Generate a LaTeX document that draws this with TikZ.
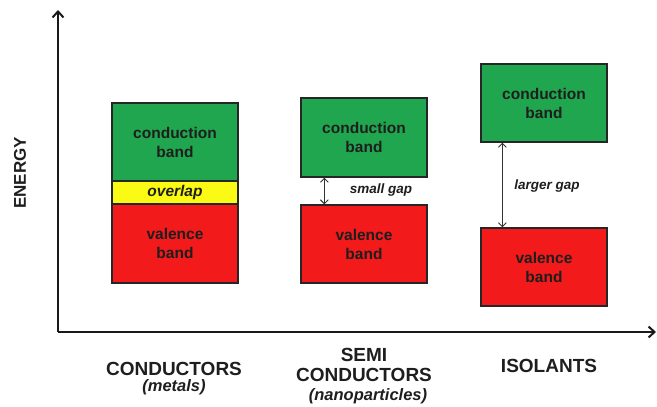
\documentclass[tikz,border=0pt]{standalone}
\usepackage{fontspec}
\setmainfont{Liberation Sans}
\usetikzlibrary{arrows.meta}

\definecolor{bandgreen}{RGB}{32,166,78}
\definecolor{bandred}{RGB}{242,26,26}
\definecolor{bandyellow}{RGB}{250,250,20}
\definecolor{bandtext}{RGB}{30,30,30}

\tikzset{
  band/.style={draw=black!85, line width=1.3pt, minimum width=126pt,
    inner sep=0pt, align=center, text=bandtext,
    font=\fontsize{15.5}{19}\selectfont\bfseries},
  axisline/.style={line width=2.4pt, black!90, -{Straight Barb[length=6pt,width=11pt,line width=2pt]}},
  gaparrow/.style={line width=0.9pt, black!80,
    {Straight Barb[length=4pt,width=8pt]}-{Straight Barb[length=4pt,width=8pt]}},
  gaplabel/.style={text=bandtext, font=\fontsize{13.5}{16}\selectfont\bfseries\itshape},
  catlabel/.style={align=center, text=bandtext, inner sep=0pt,
    font=\fontsize{19}{20}\selectfont\bfseries},
  sublabel/.style={text=bandtext, inner sep=0pt,
    font=\fontsize{16.5}{18}\selectfont\bfseries\itshape}
}

\begin{document}
\begin{tikzpicture}[x=1pt,y=-1pt]
\useasboundingbox (0,0) rectangle (657,407);

% axes
\coordinate (origin) at (58,332);
\coordinate (ytip) at (58,10);
\coordinate (xtip) at (656,332);
\draw[axisline] (origin) -- (ytip);
\draw[axisline] (origin) -- (xtip);
\node[rotate=90, text=bandtext, font=\fontsize{17}{20}\selectfont\bfseries] (energy) at (20,173) {ENERGY};

% conductors
\node[band, fill=bandgreen, minimum height=78pt] (cond1) at (175,142) {conduction\\band};
\node[band, fill=bandyellow, minimum height=23pt, font=\fontsize{15.5}{19}\selectfont\bfseries\itshape] (ovl) at (175,192.5) {overlap};
\node[band, fill=bandred, minimum height=79pt] (val1) at (175,243.5) {valence\\band};

% semiconductors
\node[band, fill=bandgreen, minimum height=79pt] (cond2) at (364,137.5) {conduction\\band};
\node[band, fill=bandred, minimum height=78pt] (val2) at (364,244) {valence\\band};
\draw[gaparrow] ([xshift=24pt]cond2.south west) -- ([xshift=24pt]val2.north west);
\node[gaplabel] (gap2) at (381,190) {small gap};

% isolants
\node[band, fill=bandgreen, minimum height=78pt] (cond3) at (544,103) {conduction\\band};
\node[band, fill=bandred, minimum height=78pt] (val3) at (544,267) {valence\\band};
\draw[gaparrow] ([xshift=22pt]cond3.south west) -- ([xshift=22pt]val3.north west);
\node[gaplabel] (gap3) at (547,186) {larger gap};

% category labels
\node[catlabel] (lab1) at (174,369) {CONDUCTORS};
\node[sublabel] (sub1) at (174,387) {(metals)};
\node[catlabel] (lab2) at (364,365) {SEMI\\CONDUCTORS};
\node[sublabel] (sub2) at (368,396) {(nanoparticles)};
\node[catlabel] (lab3) at (549,366) {ISOLANTS};
\end{tikzpicture}
\end{document}
